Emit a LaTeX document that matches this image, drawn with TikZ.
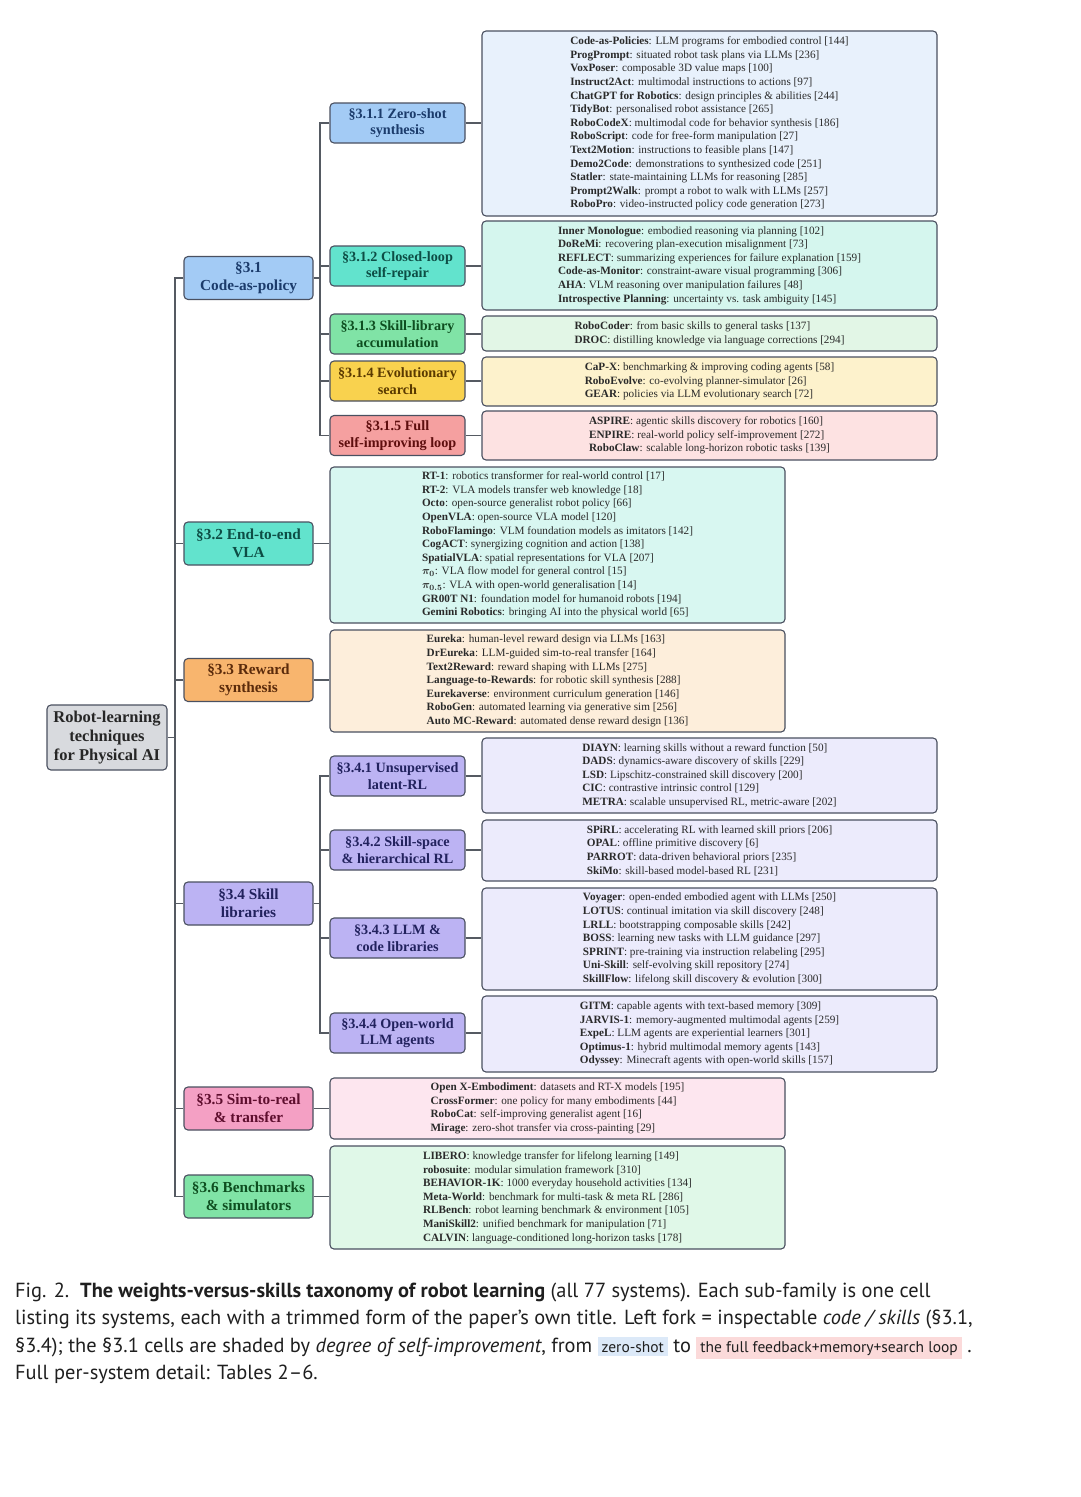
\documentclass[tikz,border=0pt]{standalone}
\usepackage{fontspec}
\setmainfont{Liberation Serif}
\newfontfamily\capfont[Ligatures=TeX]{PT Sans}
\definecolor{bordc}{HTML}{4A5060}
\definecolor{connc}{HTML}{555A62}
\definecolor{leaftxt}{HTML}{2A2A2A}
\definecolor{cBlue}{HTML}{A3CBF5}\definecolor{tBlue}{HTML}{1B3B6B}
\definecolor{cTeal}{HTML}{62E3CD}\definecolor{tTeal}{HTML}{0D4D45}
\definecolor{cGreen}{HTML}{80E3A6}\definecolor{tGreen}{HTML}{0E4E20}
\definecolor{cYel}{HTML}{F9D24E}\definecolor{tYel}{HTML}{5A3A00}
\definecolor{cSal}{HTML}{F5A0A0}\definecolor{tSal}{HTML}{5E0E0E}
\definecolor{cOra}{HTML}{F8B56E}\definecolor{tOra}{HTML}{5B2B0B}
\definecolor{cLav}{HTML}{BCB3F3}\definecolor{tLav}{HTML}{22225E}
\definecolor{cPink}{HTML}{F4A0C4}\definecolor{tPink}{HTML}{5E0E2E}
\definecolor{cGray}{HTML}{D8DADE}
\definecolor{lBlue}{HTML}{E8F1FC}
\definecolor{lTeal}{HTML}{D5F6EE}
\definecolor{lGreen}{HTML}{E2F6E6}
\definecolor{lYel}{HTML}{FDF2CC}
\definecolor{lSal}{HTML}{FDE2E2}
\definecolor{lVla}{HTML}{D8F7F1}
\definecolor{lOra}{HTML}{FDEEDB}
\definecolor{lLav}{HTML}{ECEBFC}
\definecolor{lPink}{HTML}{FDE6EF}
\definecolor{lGr2}{HTML}{E0F8E8}
\definecolor{hlBlue}{HTML}{DCE9F8}
\definecolor{hlPink}{HTML}{FBDADA}
\newcommand{\sy}[2]{\textbf{#1}: #2}
\begin{document}
\begin{tikzpicture}[x=1pt,y=-1pt,
  boxbase/.style={draw=bordc,line width=1.1pt,rounded corners=4pt,align=center,inner sep=1pt},
  rootbox/.style={boxbase,fill=cGray,text=black!85,minimum width=120pt,minimum height=65pt,font=\bfseries\fontsize{16.5}{19}\selectfont},
  lonebox/.style={boxbase,minimum width=129pt,minimum height=43pt,font=\bfseries\fontsize{15.3}{18}\selectfont},
  ltwobox/.style={boxbase,minimum width=135pt,minimum height=40pt,font=\bfseries\fontsize{14.2}{16.5}\selectfont},
  leafbox/.style={boxbase,align=left,text=leaftxt,minimum width=455pt,font=\fontsize{11.2}{13.6}\selectfont},
  conn/.style={draw=connc,line width=1.2pt}]
\useasboundingbox (0,0) rectangle (1080,1497);
\fill[white] (0,0) rectangle (1080,1497);

% root
\node[rootbox] (root) at (107,737.5) {Robot-learning\\techniques\\for Physical AI};

% level 1
\node[lonebox,fill=cBlue,text=tBlue] (s31) at (248.5,278) {§3.1\\Code-as-policy};
\node[lonebox,fill=cTeal,text=tTeal] (s32) at (248.5,543.5) {§3.2 End-to-end\\VLA};
\node[lonebox,fill=cOra,text=tOra] (s33) at (248.5,680) {§3.3 Reward\\synthesis};
\node[lonebox,fill=cLav,text=tLav] (s34) at (248.5,903.5) {§3.4 Skill\\libraries};
\node[lonebox,fill=cPink,text=tPink] (s35) at (248.5,1108.5) {§3.5 Sim-to-real\\\& transfer};
\node[lonebox,fill=cGreen,text=tGreen] (s36) at (248.5,1196.5) {§3.6 Benchmarks\\\& simulators};

% level 2 (3.1)
\node[ltwobox,fill=cBlue,text=tBlue] (s311) at (397.5,123) {§3.1.1 Zero-shot\\synthesis};
\node[ltwobox,fill=cTeal,text=tTeal] (s312) at (397.5,266) {§3.1.2 Closed-loop\\self-repair};
\node[ltwobox,fill=cGreen,text=tGreen] (s313) at (397.5,334) {§3.1.3 Skill-library\\accumulation};
\node[ltwobox,fill=cYel,text=tYel] (s314) at (397.5,381) {§3.1.4 Evolutionary\\search};
\node[ltwobox,fill=cSal,text=tSal] (s315) at (397.5,435.5) {§3.1.5 Full\\self-improving loop};

% level 2 (3.4)
\node[ltwobox,fill=cLav,text=tLav] (s341) at (397.5,776) {§3.4.1 Unsupervised\\latent-RL};
\node[ltwobox,fill=cLav,text=tLav] (s342) at (397.5,850) {§3.4.2 Skill-space\\\& hierarchical RL};
\node[ltwobox,fill=cLav,text=tLav] (s343) at (397.5,938) {§3.4.3 LLM \&\\code libraries};
\node[ltwobox,fill=cLav,text=tLav] (s344) at (397.5,1033) {§3.4.4 Open-world\\LLM agents};

% leaves
\node[leafbox,fill=lBlue,minimum height=185pt] (L311) at (709.5,123.5) {%
\sy{Code-as-Policies}{LLM programs for embodied control [144]}\\
\sy{ProgPrompt}{situated robot task plans via LLMs [236]}\\
\sy{VoxPoser}{composable 3D value maps [100]}\\
\sy{Instruct2Act}{multimodal instructions to actions [97]}\\
\sy{ChatGPT for Robotics}{design principles \& abilities [244]}\\
\sy{TidyBot}{personalised robot assistance [265]}\\
\sy{RoboCodeX}{multimodal code for behavior synthesis [186]}\\
\sy{RoboScript}{code for free-form manipulation [27]}\\
\sy{Text2Motion}{instructions to feasible plans [147]}\\
\sy{Demo2Code}{demonstrations to synthesized code [251]}\\
\sy{Statler}{state-maintaining LLMs for reasoning [285]}\\
\sy{Prompt2Walk}{prompt a robot to walk with LLMs [257]}\\
\sy{RoboPro}{video-instructed policy code generation [273]}};

\node[leafbox,fill=lTeal,minimum height=89pt] (L312) at (709.5,265.5) {%
\sy{Inner Monologue}{embodied reasoning via planning [102]}\\
\sy{DoReMi}{recovering plan-execution misalignment [73]}\\
\sy{REFLECT}{summarizing experiences for failure explanation [159]}\\
\sy{Code-as-Monitor}{constraint-aware visual programming [306]}\\
\sy{AHA}{VLM reasoning over manipulation failures [48]}\\
\sy{Introspective Planning}{uncertainty vs. task ambiguity [145]}};

\node[leafbox,fill=lGreen,minimum height=35pt] (L313) at (709.5,333.5) {%
\sy{RoboCoder}{from basic skills to general tasks [137]}\\
\sy{DROC}{distilling knowledge via language corrections [294]}};

\node[leafbox,fill=lYel,minimum height=49pt] (L314) at (709.5,381.5) {%
\sy{CaP-X}{benchmarking \& improving coding agents [58]}\\
\sy{RoboEvolve}{co-evolving planner-simulator [26]}\\
\sy{GEAR}{policies via LLM evolutionary search [72]}};

\node[leafbox,fill=lSal,minimum height=49pt] (L315) at (709.5,435.5) {%
\sy{ASPIRE}{agentic skills discovery for robotics [160]}\\
\sy{ENPIRE}{real-world policy self-improvement [272]}\\
\sy{RoboClaw}{scalable long-horizon robotic tasks [139]}};

\node[leafbox,fill=lVla,minimum height=156pt] (L32) at (557.5,545) {%
\sy{RT-1}{robotics transformer for real-world control [17]}\\
\sy{RT-2}{VLA models transfer web knowledge [18]}\\
\sy{Octo}{open-source generalist robot policy [66]}\\
\sy{OpenVLA}{open-source VLA model [120]}\\
\sy{RoboFlamingo}{VLM foundation models as imitators [142]}\\
\sy{CogACT}{synergizing cognition and action [138]}\\
\sy{SpatialVLA}{spatial representations for VLA [207]}\\
{\boldmath$\pi_0$}: VLA flow model for general control [15]\\
{\boldmath$\pi_{0.5}$}: VLA with open-world generalisation [14]\\
\sy{GR00T N1}{foundation model for humanoid robots [194]}\\
\sy{Gemini Robotics}{bringing AI into the physical world [65]}};

\node[leafbox,fill=lOra,minimum height=102pt] (L33) at (557.5,681) {%
\sy{Eureka}{human-level reward design via LLMs [163]}\\
\sy{DrEureka}{LLM-guided sim-to-real transfer [164]}\\
\sy{Text2Reward}{reward shaping with LLMs [275]}\\
\sy{Language-to-Rewards}{for robotic skill synthesis [288]}\\
\sy{Eurekaverse}{environment curriculum generation [146]}\\
\sy{RoboGen}{automated learning via generative sim [256]}\\
\sy{Auto MC-Reward}{automated dense reward design [136]}};

\node[leafbox,fill=lLav,minimum height=75pt] (L341) at (709.5,775.5) {%
\sy{DIAYN}{learning skills without a reward function [50]}\\
\sy{DADS}{dynamics-aware discovery of skills [229]}\\
\sy{LSD}{Lipschitz-constrained skill discovery [200]}\\
\sy{CIC}{contrastive intrinsic control [129]}\\
\sy{METRA}{scalable unsupervised RL, metric-aware [202]}};

\node[leafbox,fill=lLav,minimum height=61pt] (L342) at (709.5,850.5) {%
\sy{SPiRL}{accelerating RL with learned skill priors [206]}\\
\sy{OPAL}{offline primitive discovery [6]}\\
\sy{PARROT}{data-driven behavioral priors [235]}\\
\sy{SkiMo}{skill-based model-based RL [231]}};

\node[leafbox,fill=lLav,minimum height=102pt] (L343) at (709.5,939) {%
\sy{Voyager}{open-ended embodied agent with LLMs [250]}\\
\sy{LOTUS}{continual imitation via skill discovery [248]}\\
\sy{LRLL}{bootstrapping composable skills [242]}\\
\sy{BOSS}{learning new tasks with LLM guidance [297]}\\
\sy{SPRINT}{pre-training via instruction relabeling [295]}\\
\sy{Uni-Skill}{self-evolving skill repository [274]}\\
\sy{SkillFlow}{lifelong skill discovery \& evolution [300]}};

\node[leafbox,fill=lLav,minimum height=76pt] (L344) at (709.5,1034) {%
\sy{GITM}{capable agents with text-based memory [309]}\\
\sy{JARVIS-1}{memory-augmented multimodal agents [259]}\\
\sy{ExpeL}{LLM agents are experiential learners [301]}\\
\sy{Optimus-1}{hybrid multimodal memory agents [143]}\\
\sy{Odyssey}{Minecraft agents with open-world skills [157]}};

\node[leafbox,fill=lPink,minimum height=61pt] (L35) at (557.5,1108.5) {%
\sy{Open X-Embodiment}{datasets and RT-X models [195]}\\
\sy{CrossFormer}{one policy for many embodiments [44]}\\
\sy{RoboCat}{self-improving generalist agent [16]}\\
\sy{Mirage}{zero-shot transfer via cross-painting [29]}};

\node[leafbox,fill=lGr2,minimum height=103pt] (L36) at (557.5,1197.5) {%
\sy{LIBERO}{knowledge transfer for lifelong learning [149]}\\
\sy{robosuite}{modular simulation framework [310]}\\
\sy{BEHAVIOR-1K}{1000 everyday household activities [134]}\\
\sy{Meta-World}{benchmark for multi-task \& meta RL [286]}\\
\sy{RLBench}{robot learning benchmark \& environment [105]}\\
\sy{ManiSkill2}{unified benchmark for manipulation [71]}\\
\sy{CALVIN}{language-conditioned long-horizon tasks [178]}};

% junction coordinates
\coordinate (tk) at (175,0);
\coordinate (bA) at (320,0);

% trunk
\draw[conn] (s31.west) -- (s31.west -| tk) -- (s36.west -| tk) -- (s36.west);
\draw[conn] (root.east) -- (root.east -| tk);
\foreach \n in {s32,s33,s34,s35}{\draw[conn] (\n.west) -- (\n.west -| tk);}

% branch 3.1
\draw[conn] (s31.east) -- (s31.east -| bA);
\draw[conn] (s311.west) -- (s311.west -| bA) -- (s315.west -| bA) -- (s315.west);
\foreach \n in {s312,s313,s314}{\draw[conn] (\n.west) -- (\n.west -| bA);}
% branch 3.4
\draw[conn] (s34.east) -- (s34.east -| bA);
\draw[conn] (s341.west) -- (s341.west -| bA) -- (s344.west -| bA) -- (s344.west);
\foreach \n in {s342,s343}{\draw[conn] (\n.west) -- (\n.west -| bA);}

% to leaves
\foreach \a/\b in {s311/L311,s312/L312,s313/L313,s314/L314,s315/L315,s32/L32,s33/L33,s341/L341,s342/L342,s343/L343,s344/L344,s35/L35,s36/L36}{
  \draw[conn] (\a.east) -- (\a.east -| \b.west);}

% caption
\node[anchor=north west,align=left,inner sep=0pt,font=\capfont\fontsize{20.4}{27.2}\selectfont,text=black!88] (cap) at (15,1283) {%
Fig. 2.\ \ \textbf{The weights-versus-skills taxonomy of robot learning} (all 77 systems). Each sub-family is one cell\\
listing its systems, each with a trimmed form of the paper's own title. Left fork = inspectable \textit{code / skills} (§3.1,\\
§3.4); the §3.1 cells are shaded by \textit{degree of self-improvement}, from {\setlength{\fboxsep}{4pt}\colorbox{hlBlue}{\fontsize{15.5}{15.5}\selectfont zero-shot}} to {\setlength{\fboxsep}{4pt}\colorbox{hlPink}{\fontsize{15.5}{15.5}\selectfont the full feedback+memory+search loop}} .\\
Full per-system detail: Tables 2–6.};
\end{tikzpicture}
\end{document}
